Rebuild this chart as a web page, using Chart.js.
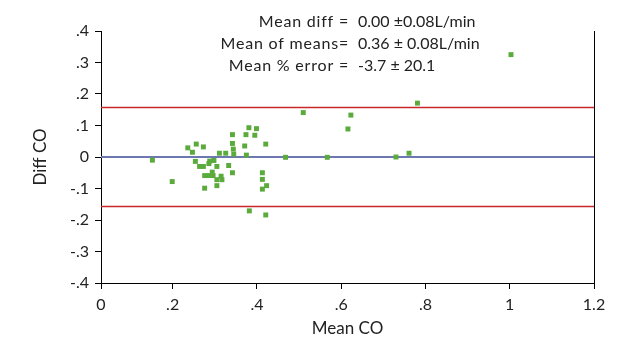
<!DOCTYPE html>
<html>
<head>
<meta charset="utf-8">
<script src="https://cdn.jsdelivr.net/npm/chart.js@4/dist/chart.umd.min.js"></script>
<style>
html,body{margin:0;padding:0;background:#fff;}
canvas{display:block;}
</style>
</head>
<body>
<canvas id="c" width="627" height="342"></canvas>
<script>
// ---- data ----
const meanCO = [0.152,0.199,0.236,0.247,0.256,0.273,0.254,0.264,0.273,0.286,0.288,0.298,0.305,0.276,0.286,0.294,0.296,0.305,0.315,0.317,0.276,0.305,0.311,0.326,0.333,0.342,0.342,0.342,0.344,0.345,0.371,0.374,0.381,0.399,0.395,0.375,0.421,0.413,0.413,0.423,0.413,0.382,0.421,0.468,0.510,0.567,0.623,0.616,0.730,0.761,0.781,1.003];
const diffCO = [-0.010,-0.078,0.029,0.015,0.041,0.032,-0.014,-0.030,-0.030,-0.021,-0.013,-0.011,-0.030,-0.059,-0.059,-0.048,-0.059,-0.072,-0.061,-0.072,-0.099,-0.091,0.012,0.012,-0.027,-0.050,0.071,0.043,0.025,0.009,0.035,0.071,0.093,0.090,0.069,0.006,0.041,-0.050,-0.071,-0.091,-0.102,-0.171,-0.184,-0.001,0.141,-0.001,0.133,0.089,0.000,0.012,0.171,0.325];
const meanDiff = 0.00;
const upperLimit = 0.157;
const lowerLimit = -0.157;
const xTickValues = [0.2,0.4,0.6,0.8,1.0,1.2];
const xTickLabels = ['.2','.4','.6','.8','1','1.2'];
const xZeroLabel = '0';
const yTickValues = [-0.4,-0.3,-0.2,-0.1,0,0.1,0.2,0.3,0.4];
const yTickLabels = ['-.4','-.3','-.2','-.1','0','.1','.2','.3','.4'];
const statLabels = ['Mean diff =','Mean of means=','Mean % error ='];
const statValues = ['0.00 \u00B10.08L/min','0.36 \u00B1 0.08L/min','-3.7 \u00B1 20.1'];
const xTitle = 'Mean CO';
const yTitle = 'Diff CO';

// ---- chart ----
const X_MIN = 0.03, X_MAX = 1.2, Y_MIN = -0.4, Y_MAX = 0.4;
const FONT = 'Lato, "Open Sans", sans-serif';
const points = meanCO.map((x,i)=>({x:x,y:diffCO[i]}));
const hline = v => [{x:X_MIN,y:v},{x:X_MAX,y:v}];

const statsPlugin = {
  id:'stats',
  afterDraw(chart){
    const ctx = chart.ctx;
    ctx.save();
    ctx.fillStyle = '#222';
    ctx.font = '16px ' + FONT;
    ctx.textBaseline = 'middle';
    const ys = [22, 44, 66];
    statLabels.forEach((t,i)=>{
      ctx.textAlign = 'right';
      if ('letterSpacing' in ctx) ctx.letterSpacing = '0.8px';
      ctx.fillText(t, 349, ys[i]);
      if ('letterSpacing' in ctx) ctx.letterSpacing = '0px';
      ctx.textAlign = 'left';
      ctx.fillText(statValues[i], 358, ys[i]);
    });
    ctx.restore();
  }
};

new Chart(document.getElementById('c'), {
  type:'scatter',
  data:{
    datasets:[
      {data:points, pointStyle:'rect', pointRadius:3.5, pointHoverRadius:3.5, backgroundColor:'#5aaa3c', borderColor:'#5aaa3c', borderWidth:0, showLine:false},
      {data:hline(upperLimit), showLine:true, pointRadius:0, borderColor:'#c9282b', borderWidth:1.5},
      {data:hline(lowerLimit), showLine:true, pointRadius:0, borderColor:'#c9282b', borderWidth:1.5},
      {data:hline(meanDiff), showLine:true, pointRadius:0, borderColor:'#6d78b0', borderWidth:1.8}
    ]
  },
  options:{
    responsive:false,
    animation:false,
    events:[],
    layout:{padding:{left:0,right:33,top:31,bottom:0}},
    plugins:{legend:{display:false},tooltip:{enabled:false}},
    scales:{
      x:{
        type:'linear', min:X_MIN, max:X_MAX,
        afterBuildTicks(s){ s.ticks = [{value:X_MIN}].concat(xTickValues.map(v=>({value:v}))); },
        ticks:{
          autoSkip:false, maxRotation:0, padding:6, color:'#222', font:{family:FONT,size:16},
          callback:(v,i)=> i===0 ? xZeroLabel : xTickLabels[i-1]
        },
        grid:{drawOnChartArea:false, drawTicks:true, tickLength:6, color:'#000', lineWidth:1},
        border:{display:true, color:'#000', width:1},
        title:{display:true, text:xTitle, color:'#222', font:{family:FONT,size:17}, padding:{top:0,bottom:3}},
        afterFit(s){ s.height = 59; }
      },
      y:{
        type:'linear', min:Y_MIN, max:Y_MAX, position:'left',
        afterBuildTicks(s){ s.ticks = yTickValues.map(v=>({value:v})); },
        ticks:{
          autoSkip:false, padding:6, color:'#222', font:{family:FONT,size:16},
          callback:(v,i)=> yTickLabels[i]
        },
        grid:{drawOnChartArea:false, drawTicks:true, tickLength:6, color:'#000', lineWidth:1},
        border:{display:true, color:'#000', width:1},
        title:{display:true, text:yTitle, color:'#222', font:{family:FONT,size:17}, padding:{top:30,bottom:0}},
        afterFit(s){ s.width = 101; }
      },
      y2:{
        type:'linear', min:Y_MIN, max:Y_MAX, position:'right',
        ticks:{display:false},
        grid:{display:false, drawTicks:false},
        border:{display:true, color:'#000', width:1},
        afterFit(s){ s.width = 0; }
      }
    }
  },
  plugins:[statsPlugin]
});
</script>
</body>
</html>
